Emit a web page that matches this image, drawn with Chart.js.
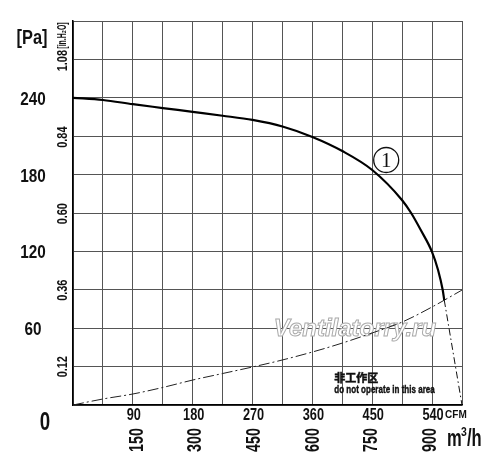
<!DOCTYPE html>
<html>
<head>
<meta charset="utf-8">
<script src="https://cdn.jsdelivr.net/npm/chart.js@4"></script>
<style>
	html, body { margin: 0; padding: 0; background: #fff; }
	canvas { display: block; }
</style>
</head>
<body>
<canvas id="fanChart" width="500" height="470"></canvas>
<script>
// fan curve (flow in CFM, static pressure in Pa)
var flowCfm = [0, 45, 90, 135, 180, 225, 270, 315, 360, 405, 450, 495, 508.5, 523, 540, 549, 556, 558.3];
var pressurePa = [240, 238.3, 235, 232, 229, 226, 222.7, 217.6, 209.4, 198.4, 183.6, 160, 150, 136.7, 119.5, 105.5, 89.8, 82];

// part of the curve inside the "do not operate" zone
var stallFlowCfm = [558.3, 585];
var stallPa = [82, 0];

// system resistance curve (dash-dot)
var systemFlowCfm = [0, 45, 90, 135, 180, 225, 270, 315, 360, 405, 450, 495, 540, 585];
var systemPa = [0, 4.7, 8.6, 13.7, 19.5, 24.6, 29.7, 35.2, 41.4, 48.4, 56.3, 64.8, 76.6, 89.8];

// tick labels
var cfmTicks = [90, 180, 270, 360, 450, 540];
var m3hTicks = [150, 300, 450, 600, 750, 900];
var paTicks = [0, 60, 120, 180, 240];
var inH2oTicks = ['0.12', '0.36', '0.60', '0.84', '1.08'];

var M3H_PER_CFM = 1.699;
var PA_PER_INH2O = 249.09;

function toPoints(xs, ys) {
	var out = [];
	for (var i = 0; i < xs.length; i++) {
		out.push({ x: xs[i], y: ys[i] });
	}
	return out;
}

var FONT = "'Liberation Sans', Arial, sans-serif";

// condensed bold text helper
function drawText(ctx, s, x, y, size, sx, opts) {
	opts = opts || {};
	ctx.save();
	ctx.translate(x, y);
	if (opts.rotate) ctx.rotate(-Math.PI / 2);
	ctx.scale(sx, 1);
	ctx.font = (opts.style || 'bold') + ' ' + size + 'px ' + (opts.family || FONT);
	ctx.textAlign = opts.align || 'center';
	ctx.textBaseline = opts.baseline || 'middle';
	ctx.fillStyle = opts.color || '#111';
	ctx.fillText(s, 0, 0);
	if (opts.heavy) {
		ctx.strokeStyle = opts.color || '#111';
		ctx.lineWidth = opts.heavy;
		ctx.strokeText(s, 0, 0);
	}
	ctx.restore();
}

var watermarkPlugin = {
	id: 'watermark',
	beforeDatasetsDraw: function (chart) {
		var ctx = chart.ctx;
		var xs = chart.scales.x, ys = chart.scales.y;
		var cx = xs.getPixelForValue(424), cy = ys.getPixelForValue(59);
		ctx.save();
		ctx.font = 'italic bold 24px ' + FONT;
		ctx.textAlign = 'center';
		ctx.textBaseline = 'middle';
		ctx.fillStyle = '#fff';
		ctx.fillText('Ventilatorry.ru', cx, cy);
		ctx.strokeStyle = '#aaa';
		ctx.lineWidth = 1;
		ctx.strokeText('Ventilatorry.ru', cx, cy);
		ctx.restore();
	}
};

var labelsPlugin = {
	id: 'axisLabels',
	afterDraw: function (chart) {
		var ctx = chart.ctx;
		var xs = chart.scales.x, ys = chart.scales.y;
		var bottom = chart.chartArea.bottom;
		var left = chart.chartArea.left;

		cfmTicks.forEach(function (v) {
			drawText(ctx, String(v), xs.getPixelForValue(v) + 1, bottom + 10, 17, 0.75);
		});
		drawText(ctx, 'CFM', xs.getPixelForValue(540) + 13, bottom + 10, 10, 1, { align: 'left' });

		m3hTicks.forEach(function (v) {
			drawText(ctx, String(v), xs.getPixelForValue(v / M3H_PER_CFM) + 5, bottom + 35, 21, 0.68, { rotate: true });
		});
		drawText(ctx, 'm', 447, bottom + 41, 23, 0.72, { align: 'left', baseline: 'alphabetic' });
		drawText(ctx, '3', 461, bottom + 31, 13, 0.8, { align: 'left', baseline: 'alphabetic' });
		drawText(ctx, '/h', 467, bottom + 41, 23, 0.72, { align: 'left', baseline: 'alphabetic' });

		paTicks.forEach(function (v) {
			if (v === 0) {
				drawText(ctx, '0', 45, ys.getPixelForValue(0) + 18, 26, 0.72);
			} else {
				drawText(ctx, String(v), 33, ys.getPixelForValue(v) + 2, 18, 0.85);
			}
		});
		drawText(ctx, '[Pa]', 32, 38, 20, 0.82);

		inH2oTicks.forEach(function (s) {
			drawText(ctx, s, left - 10, ys.getPixelForValue(parseFloat(s) * PA_PER_INH2O), 14, 0.78, { rotate: true });
		});
		var top108 = ys.getPixelForValue(1.08 * PA_PER_INH2O) - 12;
		drawText(ctx, '[in.H₂O]', left - 10, top108, 12, 0.58, { rotate: true, align: 'left' });

		// curve number
		var nx = xs.getPixelForValue(471), ny = ys.getPixelForValue(picturePa(160));
		ctx.save();
		ctx.beginPath();
		ctx.arc(nx, ny, 12.5, 0, Math.PI * 2);
		ctx.lineWidth = 1.3;
		ctx.strokeStyle = '#111';
		ctx.stroke();
		ctx.restore();
		drawText(ctx, '1', nx, ny + 1, 21, 1, { style: 'normal', family: "'Liberation Serif', serif" });

		// non-operating zone note
		var zx = xs.getPixelForValue(393);
		drawText(ctx, '非工作区', zx, ys.getPixelForValue(21.5), 11, 1, { align: 'left', family: "'Noto Sans CJK SC', sans-serif", heavy: 0.5 });
		drawText(ctx, 'do not operate in this area', zx, ys.getPixelForValue(12), 11, 0.73, { align: 'left', heavy: 0.4 });
	}
};

// pixel row -> Pa, only used to place the curve number
function picturePa(py) {
	return (405 - py) * 300 / 384;
}

// eslint-disable-next-line no-undef
var chart = new Chart(document.getElementById('fanChart'), {
	type: 'line',
	data: {
		datasets: [{
			label: 'Fan curve',
			data: toPoints(flowCfm, pressurePa),
			borderColor: '#000',
			borderWidth: 2.2,
			pointRadius: 0,
			cubicInterpolationMode: 'monotone'
		}, {
			label: 'Stall zone',
			data: toPoints(stallFlowCfm, stallPa),
			borderColor: '#111',
			borderWidth: 1,
			borderDash: [7, 3, 1.5, 3],
			pointRadius: 0
		}, {
			label: 'System',
			data: toPoints(systemFlowCfm, systemPa),
			borderColor: '#222',
			borderWidth: 1,
			borderDash: [11, 3, 2, 3],
			pointRadius: 0,
			cubicInterpolationMode: 'monotone'
		}]
	},
	options: {
		responsive: false,
		devicePixelRatio: 1,
		animation: false,
		layout: {
			padding: { left: 73, top: 21, right: 38, bottom: 65 }
		},
		plugins: {
			legend: { display: false },
			tooltip: { enabled: false }
		},
		scales: {
			x: {
				type: 'linear',
				min: 0,
				max: 585,
				ticks: { stepSize: 45, display: false },
				grid: { color: '#555', lineWidth: 1, drawTicks: false },
				border: { color: '#000', width: 1.5 }
			},
			y: {
				min: 0,
				max: 300,
				ticks: { stepSize: 30, display: false },
				grid: { color: '#555', lineWidth: 1, drawTicks: false },
				border: { color: '#000', width: 1.5 }
			}
		}
	},
	plugins: [watermarkPlugin, labelsPlugin]
});
</script>
</body>
</html>
